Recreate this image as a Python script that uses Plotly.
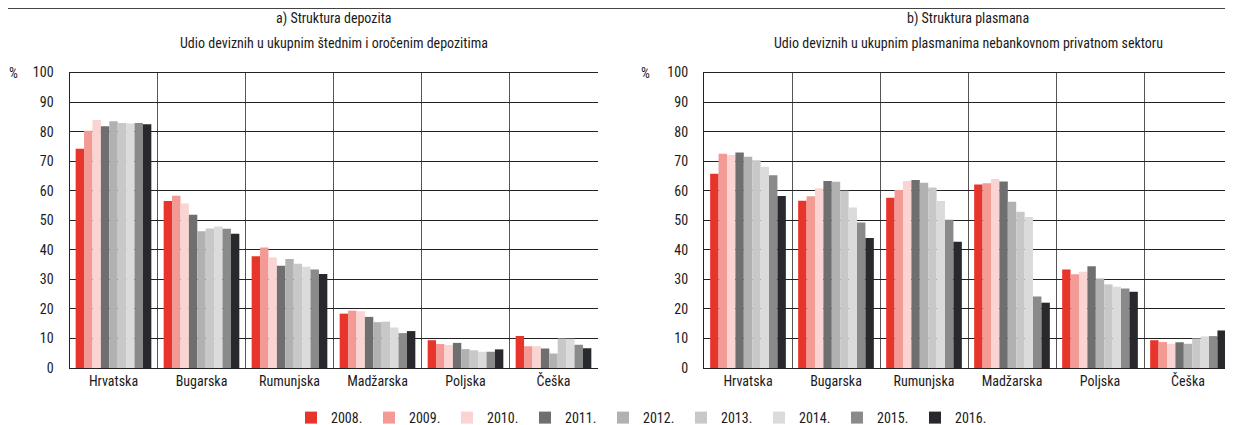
import plotly.graph_objects as go

countries = ["Hrvatska", "Bugarska", "Rumunjska", "Madžarska", "Poljska", "Češka"]
years = ["2008.", "2009.", "2010.", "2011.", "2012.", "2013.", "2014.", "2015.", "2016."]
colors = ["#E8352B", "#F29A93", "#FAD4D2", "#6F6F6F", "#B1B1B1", "#C8C8C8", "#DBDBDB", "#8A8A8A", "#28292D"]

# a) deposits, one list per year, values by country
dep_2008 = [74.2, 56.5, 37.8, 18.4, 9.4, 10.8]
dep_2009 = [80.3, 58.3, 40.8, 19.4, 8.1, 7.4]
dep_2010 = [83.9, 55.7, 37.4, 19.2, 7.8, 7.4]
dep_2011 = [81.8, 51.9, 34.6, 17.3, 8.5, 6.6]
dep_2012 = [83.5, 46.3, 36.9, 15.5, 6.4, 4.9]
dep_2013 = [82.9, 47.2, 35.3, 15.7, 6.0, 10.0]
dep_2014 = [82.7, 47.9, 34.3, 13.7, 5.5, 9.9]
dep_2015 = [82.9, 47.1, 33.3, 11.8, 5.5, 7.9]
dep_2016 = [82.5, 45.4, 31.8, 12.5, 6.3, 6.7]

# b) loans
pla_2008 = [65.7, 56.6, 57.6, 62.1, 33.3, 9.4]
pla_2009 = [72.5, 58.1, 60.2, 62.5, 31.7, 8.8]
pla_2010 = [72.1, 60.8, 63.3, 64.0, 32.6, 8.2]
pla_2011 = [72.9, 63.3, 63.6, 63.1, 34.4, 8.7]
pla_2012 = [71.5, 63.0, 62.7, 56.3, 30.3, 8.2]
pla_2013 = [70.3, 60.0, 61.1, 52.9, 28.3, 10.0]
pla_2014 = [68.1, 54.3, 56.5, 51.1, 27.5, 10.7]
pla_2015 = [65.2, 49.2, 50.2, 24.2, 26.9, 10.8]
pla_2016 = [58.2, 44.0, 42.7, 22.1, 25.8, 12.7]

deposits = [dep_2008, dep_2009, dep_2010, dep_2011, dep_2012, dep_2013, dep_2014, dep_2015, dep_2016]
loans = [pla_2008, pla_2009, pla_2010, pla_2011, pla_2012, pla_2013, pla_2014, pla_2015, pla_2016]

# page body has an 8px margin, so figure coords = screen coords - 8
OFF = 8
W, H = 1225, 417
FONT = "Liberation Sans Narrow, Arial Narrow, Roboto Condensed, Liberation Sans, sans-serif"
TEXT = "#1a1a1a"


def px_x(X):
    return (X - OFF) / W


def px_y(Y):
    return 1 - (Y - OFF) / H


fig = go.Figure()
for i, yr in enumerate(years):
    fig.add_trace(go.Bar(x=countries, y=deposits[i], name=yr, marker=dict(color=colors[i], line_width=0),
                         xaxis="x", yaxis="y", legendgroup=yr))
    fig.add_trace(go.Bar(x=countries, y=loans[i], name=yr, marker=dict(color=colors[i], line_width=0),
                         xaxis="x2", yaxis="y2", legendgroup=yr, showlegend=False))

y0, y1 = px_y(368), px_y(72.5)
xa = dict(type="category", tickson="boundaries", showgrid=True, gridcolor="#555555", gridwidth=1.2,
          showline=True, linecolor="#222222", linewidth=1.2, mirror=True, ticks="", automargin=False,
          tickfont=dict(size=14, color=TEXT), fixedrange=True)
ya = dict(range=[0, 100], dtick=10, showgrid=True, gridcolor="#222222", gridwidth=1.2,
          showline=True, linecolor="#222222", linewidth=1.2, zeroline=False, ticks="", automargin=False,
          ticklabelstandoff=12, tickfont=dict(size=14, color=TEXT), fixedrange=True)

fig.update_layout(
    width=W, height=H,
    margin=dict(l=0, r=0, t=0, b=0, autoexpand=False),
    paper_bgcolor="white", plot_bgcolor="white",
    font=dict(family=FONT, color=TEXT, size=14),
    barmode="group", bargap=0.14, bargroupgap=0,
    xaxis=dict(xa, domain=[px_x(69.5), px_x(597.5)], anchor="y"),
    yaxis=dict(ya, domain=[y0, y1], anchor="x"),
    xaxis2=dict(xa, domain=[px_x(704), px_x(1232)], anchor="y2"),
    yaxis2=dict(ya, domain=[y0, y1], anchor="x2"),
    legend=dict(orientation="h", x=px_x(642), xanchor="center", y=px_y(418), yanchor="middle",
                entrywidth=33, itemwidth=30, traceorder="normal",
                font=dict(size=14, color=TEXT), bgcolor="rgba(0,0,0,0)"),
    showlegend=True,
)

fig.add_shape(type="line", xref="paper", yref="paper", x0=0, x1=1, y0=px_y(8.5), y1=px_y(8.5),
              line=dict(color="#444444", width=1.2))

titles = [
    (333.5, "a) Struktura depozita", "Udio deviznih u ukupnim štednim i oročenim depozitima"),
    (968, "b) Struktura plasmana", "Udio deviznih u ukupnim plasmanima nebankovnom privatnom sektoru"),
]
for xc, t1, t2 in titles:
    fig.add_annotation(x=px_x(xc), y=px_y(19), xref="paper", yref="paper", text=t1, showarrow=False,
                       font=dict(size=14, color=TEXT), xanchor="center", yanchor="middle")
    fig.add_annotation(x=px_x(xc), y=px_y(43), xref="paper", yref="paper", text=t2, showarrow=False,
                       font=dict(size=14, color=TEXT), xanchor="center", yanchor="middle")

for xp in (13, 645):
    fig.add_annotation(x=px_x(xp), y=px_y(73), xref="paper", yref="paper", text="%", showarrow=False,
                       font=dict(size=14, color=TEXT), xanchor="center", yanchor="middle")

fig.write_html("out.html")
